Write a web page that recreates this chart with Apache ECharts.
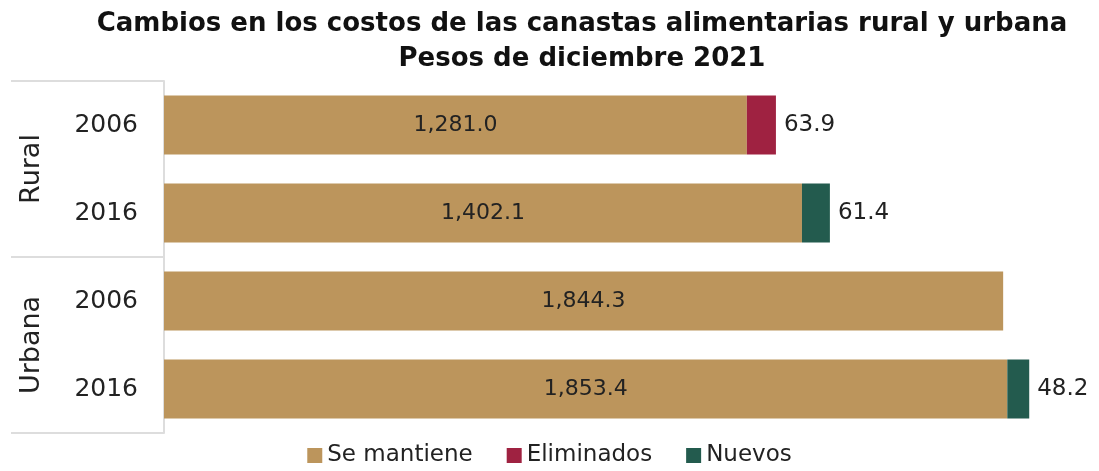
<!DOCTYPE html>
<html>
<head>
<meta charset="utf-8">
<script src="https://cdn.jsdelivr.net/npm/echarts@6/dist/echarts.min.js"></script>
<style>
  html, body { margin: 0; padding: 0; background: #fff; }
  #chart { width: 1099px; height: 471px; }
</style>
</head>
<body>
<div id="chart"></div>
<script>
  // datos (pesos de diciembre 2021)
  const years = ['2006', '2016', '2006', '2016'];
  const groups = ['Rural', 'Urbana'];
  const seMantiene = [1281.0, 1402.1, 1844.3, 1853.4];
  const eliminados = [63.9, null, null, null];
  const nuevos = [null, 61.4, null, 48.2];

  const FONT = '"DejaVu Sans", sans-serif';
  const fmt = (v) => v.toLocaleString('en-US', { minimumFractionDigits: 1, maximumFractionDigits: 1 });

  const chart = echarts.init(document.getElementById('chart'));
  const option = {
    animation: false,
    textStyle: { fontFamily: FONT },
    title: {
      text: 'Cambios en los costos de las canastas alimentarias rural y urbana\nPesos de diciembre 2021',
      left: 577,
      top: 2,
      textAlign: 'center',
      textStyle: { fontFamily: FONT, fontWeight: 'bold', fontSize: 26, lineHeight: 35, color: '#111' },
    },
    legend: {
      bottom: -1,
      left: 'center',
      icon: 'rect',
      itemWidth: 15,
      itemHeight: 15,
      itemGap: 34,
      textStyle: { fontFamily: FONT, fontSize: 23, color: '#222' },
      data: ['Se mantiene', 'Eliminados', 'Nuevos'],
    },
    grid: { left: 164, right: 25, top: 81, bottom: 38 },
    xAxis: { type: 'value', min: 0, max: 2000, show: false },
    yAxis: [
      {
        type: 'category',
        data: years,
        inverse: true,
        axisLine: { show: false },
        axisTick: { show: false },
        axisLabel: { margin: 26, fontSize: 25, color: '#222', fontFamily: FONT },
      },
      {
        type: 'category',
        data: groups,
        inverse: true,
        position: 'left',
        axisLine: { show: true, lineStyle: { color: '#dddddd', width: 2 } },
        axisTick: { show: true, length: 153, lineStyle: { color: '#dddddd', width: 2 } },
        axisLabel: { rotate: 90, margin: 119, fontSize: 27, color: '#222', fontFamily: FONT },
      },
    ],
    series: [
      {
        name: 'Se mantiene',
        type: 'bar',
        stack: 'total',
        barWidth: 59,
        itemStyle: { color: '#BC955C' },
        label: { show: true, position: 'inside', fontSize: 22, color: '#222', formatter: (p) => fmt(p.value) },
        data: seMantiene,
      },
      {
        name: 'Eliminados',
        type: 'bar',
        stack: 'total',
        barWidth: 59,
        itemStyle: { color: '#9F2241' },
        label: { show: true, position: 'right', distance: 8, fontSize: 23, color: '#222', formatter: (p) => fmt(p.value) },
        data: eliminados,
      },
      {
        name: 'Nuevos',
        type: 'bar',
        stack: 'total',
        barWidth: 59,
        itemStyle: { color: '#235B4E' },
        label: { show: true, position: 'right', distance: 8, fontSize: 23, color: '#222', formatter: (p) => fmt(p.value) },
        data: nuevos,
      },
    ],
  };
  chart.setOption(option);
</script>
</body>
</html>
